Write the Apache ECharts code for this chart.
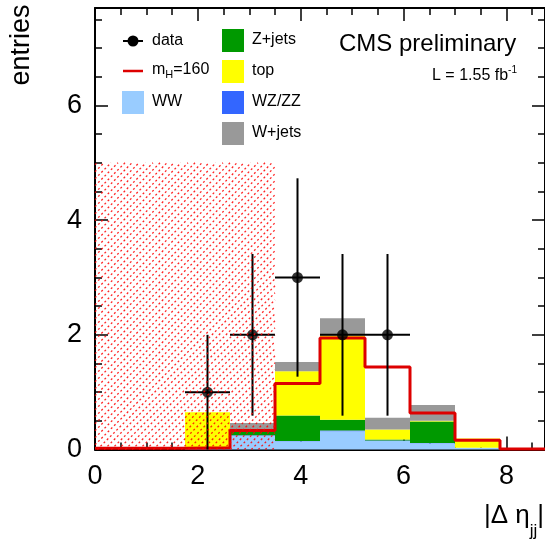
<!DOCTYPE html>
<html>
<head>
<meta charset="utf-8">
<script src="https://cdn.jsdelivr.net/npm/echarts@6/dist/echarts.min.js"></script>
<style>
  html, body { margin: 0; padding: 0; background: #fff; }
  #chart { width: 545px; height: 542px; }
</style>
</head>
<body>
<div id="chart"></div>
<script>
// |Δη_jj| histogram: 10 bins from 0 to 8.75
const binEdges = [0, 0.875, 1.75, 2.625, 3.5, 4.375, 5.25, 6.125, 7.0, 7.875, 8.75];

// background components (stacked, bottom to top)
const wwValues     = [0, 0, 0.02, 0.24, 0.145, 0.32, 0.15, 0.11, 0.03, 0];
const wzzzValues   = [0, 0, 0, 0.01, 0.005, 0.01, 0.005, 0.005, 0, 0];
const zjetsValues  = [0, 0, 0, 0.06, 0.445, 0.19, 0.02, 0.375, 0, 0];
const topValues    = [0, 0, 0.63, 0.03, 0.77, 1.47, 0.175, 0.01, 0.16, 0];
const wjetsValues  = [0, 0, 0, 0.12, 0.16, 0.30, 0.205, 0.275, 0, 0];

// Higgs signal, m_H = 160 (drawn on its own, not stacked)
const signalValues = [0.02, 0.02, 0.03, 0.33, 1.15, 1.945, 1.44, 0.635, 0.16, 0.01];

// observed entries per bin and their errors
const dataCounts = [0, 0, 1, 2, 3, 2, 2, 0, 0, 0];
const dataErrors = [0, 0, 1, 1.41, 1.73, 1.41, 1.41, 0, 0, 0];

// excluded region shown hatched
const hatchX = [0, 3.5];
const hatchY = [0, 5];

const xTicks = { min: 0, max: 8.75, major: 2, minor: 0.5 };
const yTicks = { min: 0, max: 7.7, major: 2, minor: 0.5 };

const FONT = '"Liberation Sans", Arial, Helvetica, sans-serif';

const colors = {
  ww: '#99ccff', wzzz: '#3366ff', zjets: '#009900', top: '#ffff00', wjets: '#999999',
  signal: '#dd0000', hatch: 'rgba(255,0,0,0.85)'
};

const components = [
  { name: 'WW', values: wwValues, color: colors.ww },
  { name: 'WZ/ZZ', values: wzzzValues, color: colors.wzzz },
  { name: 'Z+jets', values: zjetsValues, color: colors.zjets },
  { name: 'top', values: topValues, color: colors.top },
  { name: 'W+jets', values: wjetsValues, color: colors.wjets }
];

function rectItem(api, color) {
  const lo = api.value(0), hi = api.value(1), b = api.value(2), t = api.value(3);
  if (t - b <= 0) return null;
  const p0 = api.coord([lo, t]);
  const p1 = api.coord([hi, b]);
  return {
    type: 'rect',
    shape: { x: p0[0], y: p0[1], width: p1[0] - p0[0], height: p1[1] - p0[1] },
    style: { fill: color }
  };
}

const series = [];
let base = new Array(binEdges.length - 1).fill(0);
components.forEach(comp => {
  const data = comp.values.map((v, i) => [binEdges[i], binEdges[i + 1], base[i], base[i] + v]);
  series.push({
    type: 'custom', name: comp.name, z: 2, silent: true,
    xAxisIndex: 0, yAxisIndex: 0,
    data: data,
    encode: { x: [0, 1], y: [2, 3] },
    renderItem: (params, api) => rectItem(api, comp.color)
  });
  base = base.map((b, i) => b + comp.values[i]);
});

// signal outline as a step histogram
const signalLine = binEdges.map((e, i) => [e, signalValues[Math.min(i, signalValues.length - 1)]]);
series.push({
  type: 'line', name: 'signal', step: 'end', z: 3, silent: true,
  xAxisIndex: 0, yAxisIndex: 0,
  data: signalLine, showSymbol: false, symbol: 'none',
  lineStyle: { color: colors.signal, width: 3 }
});

// data points with error bars
const dataPoints = [];
dataCounts.forEach((n, i) => {
  if (n > 0) dataPoints.push([(binEdges[i] + binEdges[i + 1]) / 2, n, dataErrors[i], binEdges[i], binEdges[i + 1]]);
});
series.push({
  type: 'custom', name: 'dataErr', z: 4, silent: true,
  xAxisIndex: 0, yAxisIndex: 0,
  data: dataPoints,
  encode: { x: 0, y: 1 },
  renderItem: (params, api) => {
    const x = api.value(0), y = api.value(1), e = api.value(2), lo = api.value(3), hi = api.value(4);
    const top = api.coord([x, y + e]);
    const bot = api.coord([x, Math.max(0, y - e)]);
    const left = api.coord([lo, y]);
    const right = api.coord([hi, y]);
    const st = { stroke: '#000', lineWidth: 2 };
    return {
      type: 'group',
      children: [
        { type: 'line', shape: { x1: top[0], y1: top[1], x2: bot[0], y2: bot[1] }, style: st },
        { type: 'line', shape: { x1: left[0], y1: left[1], x2: right[0], y2: right[1] }, style: st }
      ]
    };
  }
});
series.push({
  type: 'scatter', name: 'data', z: 5, silent: true,
  xAxisIndex: 0, yAxisIndex: 0,
  data: dataPoints.map(p => [p[0], p[1]]),
  symbol: 'circle', symbolSize: 11,
  itemStyle: { color: '#000' }
});

// hatched excluded region: dashed "/" lines clipped to the rectangle
series.push({
  type: 'custom', name: 'hatch', z: 6, silent: true,
  xAxisIndex: 0, yAxisIndex: 0,
  data: [[hatchX[0], hatchX[1], hatchY[0], hatchY[1]]],
  encode: { x: [0, 1], y: [2, 3] },
  renderItem: (params, api) => {
    const pTop = api.coord([api.value(0), api.value(3)]);
    const pBot = api.coord([api.value(1), api.value(2)]);
    const x0 = pTop[0], y0 = pTop[1], x1 = pBot[0], y1 = pBot[1];
    const spacing = 7;
    const children = [];
    for (let k = x0 + y0 + 2; k < x1 + y1; k += spacing) {
      const xa = Math.max(x0, k - y1), xb = Math.min(x1, k - y0);
      if (xb <= xa) continue;
      children.push({
        type: 'line',
        shape: { x1: xa, y1: k - xa, x2: xb, y2: k - xb },
        style: { stroke: colors.hatch, lineWidth: 1.3, lineDash: [2, 2.5] }
      });
    }
    return { type: 'group', children: children };
  }
});

function xAxis(position, interval, tickLen, withLabels, withLine) {
  return {
    type: 'value', position: position, min: xTicks.min, max: xTicks.max, interval: interval,
    axisLine: { show: withLine, onZero: false, lineStyle: { color: '#000', width: 2 } },
    axisTick: { show: true, inside: true, length: tickLen, lineStyle: { color: '#000', width: 1.5 } },
    axisLabel: {
      show: withLabels, margin: 14, showMaxLabel: false,
      color: '#000', fontSize: 27, fontFamily: FONT
    },
    splitLine: { show: false }
  };
}
function yAxis(position, interval, tickLen, withLabels, withLine) {
  return {
    type: 'value', position: position, min: yTicks.min, max: yTicks.max, interval: interval,
    axisLine: { show: withLine, onZero: false, lineStyle: { color: '#000', width: 2 } },
    axisTick: { show: true, inside: true, length: tickLen, lineStyle: { color: '#000', width: 1.5 } },
    axisLabel: {
      show: withLabels, margin: 13, showMaxLabel: false,
      color: '#000', fontSize: 27, fontFamily: FONT
    },
    splitLine: { show: false }
  };
}

// text width helper for composed labels
const measureCtx = document.createElement('canvas').getContext('2d');
function textWidth(str, size) {
  measureCtx.font = size + 'px ' + FONT;
  return measureCtx.measureText(str).width;
}

const graphics = [];
function txt(x, y, text, size, align, vAlign, extra) {
  graphics.push(Object.assign({
    type: 'text', x: x, y: y, z: 100,
    style: { text: text, fill: '#000', font: size + 'px ' + FONT, textAlign: align || 'left', textVerticalAlign: vAlign || 'middle', verticalAlign: vAlign || 'middle' }
  }, extra || {}));
}

// legend, first column
graphics.push({ type: 'line', z: 100, shape: { x1: 123, y1: 41, x2: 143, y2: 41 }, style: { stroke: '#000', lineWidth: 2 } });
graphics.push({ type: 'circle', z: 100, shape: { cx: 133, cy: 41, r: 5.5 }, style: { fill: '#000' } });
txt(152, 41, 'data', 16);
graphics.push({ type: 'line', z: 100, shape: { x1: 123, y1: 71, x2: 143, y2: 71 }, style: { stroke: colors.signal, lineWidth: 2.5 } });
txt(152, 70, 'm', 16);
txt(152 + textWidth('m', 16), 75, 'H', 11);
txt(152 + textWidth('m', 16) + textWidth('H', 11), 70, '=160', 16);
graphics.push({ type: 'rect', z: 100, shape: { x: 122, y: 91, width: 22, height: 23 }, style: { fill: colors.ww } });
txt(152, 102, 'WW', 16);

// legend, second column
const col2 = [
  { label: 'Z+jets', color: colors.zjets, y: 29 },
  { label: 'top', color: colors.top, y: 60 },
  { label: 'WZ/ZZ', color: colors.wzzz, y: 91 },
  { label: 'W+jets', color: colors.wjets, y: 122 }
];
col2.forEach(e => {
  graphics.push({ type: 'rect', z: 100, shape: { x: 222, y: e.y, width: 22, height: 23 }, style: { fill: e.color } });
  txt(252, e.y + 11, e.label, 16);
});

// experiment label and luminosity
txt(339, 44, 'CMS preliminary', 24);
const lumiMain = 'L = 1.55 fb';
txt(432, 76, lumiMain, 16);
txt(432 + textWidth(lumiMain, 16), 70, '-1', 10);

// axis titles
txt(22, 45, 'entries', 27, 'center', 'middle', { rotation: Math.PI / 2 });
const bar = '|', sub = 'jj', head = '|\u0394 \u03b7';
const xr = 544;
txt(xr, 516, bar, 26, 'right');
txt(xr - textWidth(bar, 26), 531, sub, 17, 'right');
txt(xr - textWidth(bar, 26) - textWidth(sub, 17), 516, head, 26, 'right');

const chart = echarts.init(document.getElementById('chart'), null, { renderer: 'canvas' });
chart.setOption({
  animation: false,
  backgroundColor: '#fff',
  grid: { left: 95, top: 8, width: 451, height: 441.5, containLabel: false },
  xAxis: [
    xAxis('bottom', xTicks.major, 13, true, true),
    xAxis('bottom', xTicks.minor, 7, false, false),
    xAxis('top', xTicks.major, 13, false, true),
    xAxis('top', xTicks.minor, 7, false, false)
  ],
  yAxis: [
    yAxis('left', yTicks.major, 13, true, true),
    yAxis('left', yTicks.minor, 7, false, false),
    yAxis('right', yTicks.major, 13, false, true),
    yAxis('right', yTicks.minor, 7, false, false)
  ],
  series: series,
  graphic: graphics
});
</script>
</body>
</html>
